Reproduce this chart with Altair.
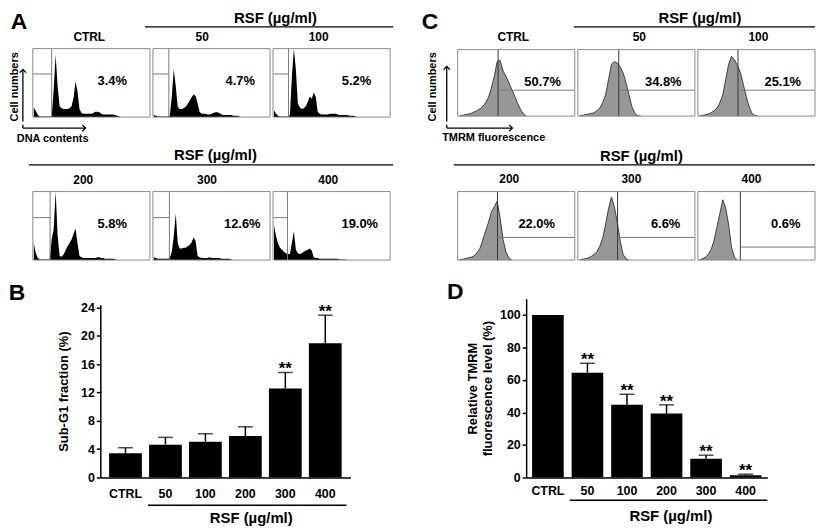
import altair as alt
import pandas as pd

FONT = "Liberation Sans"

# ------------------------------------------------------------------
# Values
# ------------------------------------------------------------------
doses = ["CTRL", "50", "100", "200", "300", "400"]
unit_label = "RSF (µg/ml)"

# Panel B: Sub-G1 fraction (%) mean and upper SD
subg1_mean = [3.42, 4.63, 5.05, 5.85, 12.58, 18.95]
subg1_err = [0.78, 1.03, 1.13, 1.31, 2.25, 3.97]
subg1_sig = ["", "", "", "", "**", "**"]

# Panel D: relative TMRM fluorescence (%) mean and upper SD
tmrm_mean = [100.0, 64.5, 44.7, 39.3, 11.5, 1.4]
tmrm_err = [0.0, 5.8, 6.5, 5.4, 2.2, 0.6]
tmrm_sig = ["", "**", "**", "**", "**", "**"]

# Percentages printed inside the flow-cytometry frames
subg1_pct = ["3.4%", "4.7%", "5.2%", "5.8%", "12.6%", "19.0%"]
tmrm_pct = ["50.7%", "34.8%", "25.1%", "22.0%", "6.6%", "0.6%"]

# Panel A: DNA-content histograms (cell count, % of frame height), 59 channels
dna_ctrl = [14, 9, 3, 1, 1, 1, 1, 1, 1, 1, 40, 91, 45, 16, 13, 12, 12, 12, 13, 16,
            28, 52, 38, 12, 6, 5, 5, 5, 5, 5, 6, 8, 8, 7, 5, 4, 4, 4, 4, 4, 4, 3, 2, 1, 0]
dna_50 = [3, 2, 1, 1, 1, 1, 1, 1, 2, 30, 70, 45, 15, 12, 12, 13, 15, 19, 24, 29,
          33, 31, 20, 8, 5, 5, 5, 4, 4, 5, 6, 7, 7, 6, 4, 3, 3, 3, 3, 3, 2, 2, 2, 1, 0]
dna_100 = [10, 5, 2, 1, 1, 1, 1, 1, 3, 60, 100, 70, 20, 14, 12, 13, 16, 22, 30, 27,
           36, 30, 8, 5, 4, 4, 4, 4, 5, 5, 5, 5, 4, 3, 3, 3, 3, 3, 2, 2, 2, 1, 0]
dna_200 = [24, 10, 3, 1, 1, 1, 1, 1, 1, 30, 45, 100, 35, 6, 5, 8, 14, 20, 25, 30,
           38, 46, 25, 6, 4, 3, 3, 3, 3, 3, 3, 3, 4, 4, 3, 3, 2, 2, 2, 2, 2, 1, 0]
dna_300 = [4, 3, 2, 2, 2, 2, 2, 2, 3, 12, 35, 68, 25, 17, 17, 18, 18, 20, 22, 26,
           33, 28, 6, 4, 3, 3, 3, 3, 4, 3, 3, 3, 3, 3, 2, 2, 2, 2, 2, 1, 0]
dna_400 = [51, 35, 24, 18, 15, 12, 10, 9, 9, 25, 42, 15, 10, 9, 10, 12, 14, 15, 17, 14,
           4, 3, 3, 2, 2, 2, 2, 2, 2, 2, 2, 2, 2, 1, 1, 1, 1, 0]
dna_hists = [dna_ctrl, dna_50, dna_100, dna_200, dna_300, dna_400]
dna_gate = [9.5, 8.0, 7.8, 8.7, 8.3, 7.3]          # sub-G1 gate (channel)
dna_gate_level = [63, 63, 63, 62, 62, 62]          # gate marker height (%)

# Panel C: TMRM fluorescence histograms (% of frame height), 40 channels
tmrm_ctrl = [0, 1, 2, 3, 4, 6, 8, 11, 14, 20, 28, 42, 60, 82, 84, 68, 60, 50, 40, 30, 19, 10, 3, 0]
tmrm_50 = [0, 1, 2, 3, 4, 5, 8, 12, 20, 32, 55, 78, 82, 80, 74, 65, 50, 32, 14, 4, 1, 0]
tmrm_100 = [0, 1, 2, 3, 5, 8, 12, 20, 32, 55, 78, 90, 85, 76, 66, 48, 30, 14, 4, 1, 0]
tmrm_200 = [0, 1, 2, 3, 4, 6, 10, 16, 28, 42, 55, 70, 78, 86, 62, 30, 12, 3, 0]
tmrm_300 = [0, 1, 2, 3, 5, 8, 12, 20, 32, 52, 75, 92, 78, 55, 28, 8, 2, 0]
tmrm_400 = [0, 2, 4, 8, 15, 28, 48, 68, 88, 76, 52, 18, 4, 0]
tmrm_hists = [tmrm_ctrl, tmrm_50, tmrm_100, tmrm_200, tmrm_300, tmrm_400]
tmrm_gate = [13.8, 14.0, 13.7, 13.6, 13.6, 14.5]   # marker channel
tmrm_gate_level = [39, 39, 39, 33, 33, 19]         # marker height (%)

# ------------------------------------------------------------------
# Layout / style settings
# ------------------------------------------------------------------
BOX_W = 118
BOX_STEP = 121
UP = "M-1,1L0,0L1,1"
RIGHT = "M-1,-1L0,0L-1,1"
dna_label_x = [40, 44, 42, 40, 45, 43.7]
tmrm_label_x = [29, 29.2, 29, 27, 30, 30]


def canvas(width, height, xdom, ydom, texts=(), rules=(), heads=()):
    xs = alt.Scale(domain=list(xdom), nice=False, zero=False)
    ys = alt.Scale(domain=list(ydom), nice=False, zero=False, reverse=True)
    layers = []
    if rules:
        df = pd.DataFrame(list(rules), columns=["x0", "x1", "y0", "y1"])
        layers.append(alt.Chart(df).mark_rule(color="black", strokeWidth=1.3).encode(
            x=alt.X("x0:Q", scale=xs, axis=None), x2=alt.X2("x1"),
            y=alt.Y("y0:Q", scale=ys, axis=None), y2=alt.Y2("y1")))
    if heads:
        df = pd.DataFrame(list(heads), columns=["x", "y", "shape"])
        layers.append(alt.Chart(df).mark_point(filled=False, color="black", strokeWidth=1.3,
                                               size=40, opacity=1).encode(
            x=alt.X("x:Q", scale=xs, axis=None), y=alt.Y("y:Q", scale=ys, axis=None),
            shape=alt.Shape("shape:N", scale=None, legend=None)))
    if texts:
        df = pd.DataFrame(list(texts), columns=["x", "y", "label", "fs", "ang"])
        layers.append(alt.Chart(df).mark_text(font=FONT, fontWeight="bold", color="black",
                                              align="center", baseline="middle").encode(
            x=alt.X("x:Q", scale=xs, axis=None), y=alt.Y("y:Q", scale=ys, axis=None),
            text="label:N", size=alt.Size("fs:Q", scale=None, legend=None),
            angle=alt.Angle("ang:Q", scale=None)))
    if not layers:
        df = pd.DataFrame({"x": [sum(xdom) / 2], "y": [sum(ydom) / 2]})
        layers.append(alt.Chart(df).mark_point(opacity=0, size=1).encode(
            x=alt.X("x:Q", scale=xs, axis=None), y=alt.Y("y:Q", scale=ys, axis=None)))
    return alt.layer(*layers).properties(width=width, height=height)


def header(width, offset, height, texts=(), rules=(), heads=()):
    xdom = [-offset / BOX_STEP, (width - offset) / BOX_STEP]
    return canvas(width, height, xdom, [0, height], texts, rules, heads)


def hist_panel(vals, nch, gate, level, left_gate, pct, pct_x, height, fill, outline, vcolor):
    xs = alt.Scale(domain=[0, nch], nice=False, zero=False)
    ys = alt.Scale(domain=[0, 100], nice=False, zero=False)

    def X(f):
        return alt.X(f"{f}:Q", scale=xs, axis=None)

    def Y(f):
        return alt.Y(f"{f}:Q", scale=ys, axis=None)

    df = pd.DataFrame({"ch": [i + 0.5 for i in range(len(vals))], "n": vals})
    kw = dict(color=fill, interpolate="linear", clip=True)
    if outline:
        kw["line"] = alt.OverlayMarkDef(color=outline, strokeWidth=0.8)
    area = alt.Chart(df).mark_area(**kw).encode(x=X("ch"), y=Y("n"))

    h0, h1 = (0, gate) if left_gate else (gate, nch)
    gdf = pd.DataFrame({"x0": [gate, h0], "x1": [gate, h1], "y0": [0, level],
                        "y1": [100, level], "c": [vcolor, "#7a7a7a"]})
    gates = alt.Chart(gdf).mark_rule(strokeWidth=1).encode(
        x=X("x0"), x2=alt.X2("x1"), y=Y("y0"), y2=alt.Y2("y1"),
        color=alt.Color("c:N", scale=None, legend=None))

    fdf = pd.DataFrame({"x0": [0], "x1": [nch], "y0": [0], "y1": [100]})
    frame = alt.Chart(fdf).mark_rect(fillOpacity=0, stroke="#8a8a8a", strokeWidth=1).encode(
        x=X("x0"), x2=alt.X2("x1"), y=Y("y0"), y2=alt.Y2("y1"))

    tdf = pd.DataFrame({"x": [pct_x], "y": [52], "t": [pct]})
    txt = alt.Chart(tdf).mark_text(font=FONT, fontSize=13, fontWeight="bold",
                                   color="black").encode(x=X("x"), y=Y("y"), text="t:N")
    return alt.layer(area, gates, frame, txt).properties(width=BOX_W, height=height)


def dna_panel(i, height):
    return hist_panel(dna_hists[i], 59, dna_gate[i], dna_gate_level[i], True,
                      subg1_pct[i], dna_label_x[i], height, "black", None, "#7a7a7a")


def tmrm_panel(i, height):
    return hist_panel(tmrm_hists[i], 40, tmrm_gate[i], tmrm_gate_level[i], False,
                      tmrm_pct[i], tmrm_label_x[i], height, "#6b6b6b", "#1e1e1e", "#333333")


def bar_panel(means, errs, sigs, ydom, yticks, ytitle, width, height, p_in, p_out,
              lab_pad, title_pad, span, text_x, rule_y, text_y):
    df = pd.DataFrame({"dose": doses, "mean": means, "err": errs,
                       "top": [m + e for m, e in zip(means, errs)], "sig": sigs})
    xs = alt.Scale(domain=doses, paddingInner=p_in, paddingOuter=p_out)
    ys = alt.Scale(domain=list(ydom), nice=False, zero=False)
    xaxis = alt.Axis(title=None, labelAngle=0, ticks=False, labelPadding=lab_pad,
                     domainColor="black", domainWidth=1.5, labelFont=FONT, labelFontSize=12.5,
                     labelFontWeight="bold", labelColor="black")
    yaxis = alt.Axis(values=yticks, format="d", title=ytitle, grid=False,
                     domainColor="black", domainWidth=1.5, tickColor="black", tickWidth=1.5,
                     tickSize=4, labelPadding=2, labelFont=FONT, labelFontSize=12.5,
                     labelFontWeight="bold", labelColor="black", titleFont=FONT,
                     titleFontSize=13, titleFontWeight="bold", titleColor="black",
                     titlePadding=title_pad, titleLineHeight=15.5)

    def X():
        return alt.X("dose:N", scale=xs, sort=doses, axis=xaxis)

    def Y(f):
        return alt.Y(f"{f}:Q", scale=ys, axis=yaxis)

    base = alt.Chart(df)
    bars = base.mark_bar(color="black").encode(x=X(), y=Y("mean"))
    witherr = base.transform_filter("datum.err > 0")
    err = witherr.mark_rule(color="black", strokeWidth=1.5).encode(
        x=X(), y=Y("mean"), y2=alt.Y2("top"))
    cap = witherr.mark_tick(color="black", thickness=1.5, size=15).encode(x=X(), y=Y("top"))
    stars = base.mark_text(font=FONT, fontSize=17, fontWeight="bold", color="black",
                           baseline="alphabetic", dy=2).encode(x=X(), y=Y("top"), text="sig:N")
    core = alt.layer(bars, err, cap, stars)

    ax = alt.Scale(domain=[0, len(doses)], nice=False, zero=False)
    ann_rule = alt.Chart(pd.DataFrame({"x0": [span[0]], "x1": [span[1]], "y": [rule_y]})).mark_rule(
        color="black", strokeWidth=1.5).encode(
        x=alt.X("x0:Q", scale=ax, axis=None), x2=alt.X2("x1"), y=Y("y"))
    ann_text = alt.Chart(pd.DataFrame({"x": [text_x], "y": [text_y], "t": [unit_label]})).mark_text(
        font=FONT, fontSize=15, fontWeight="bold", color="black", baseline="middle").encode(
        x=alt.X("x:Q", scale=ax, axis=None), y=Y("y"), text="t:N")
    return alt.layer(core, ann_rule, ann_text).resolve_scale(x="independent").properties(
        width=width, height=height)


# ------------------------------------------------------------------
# Left column: panels A and B
# ------------------------------------------------------------------
hdrA1 = header(387, 24, 38,
               texts=[(-0.116, 12, "A", 23, 0), (2.02, 8, unit_label, 15, 0),
                      (0.47, 27, "CTRL", 12, 0), (1.41, 27, "50", 12, 0), (2.38, 27, "100", 12, 0)],
               rules=[(0.934, 3.0, 17, 17)])
arrowA = canvas(22, 74, [0, 22], [0, 74],
                texts=[(6, 38.5, "Cell numbers", 11, 270)],
                rules=[(14, 14, 21, 73.3)], heads=[(14, 21, UP)])
rowA1 = alt.hconcat(arrowA, dna_panel(0, 69), dna_panel(1, 69), dna_panel(2, 69), spacing=1)
hdrA2 = header(387, 24, 67,
               texts=[(0.165, 15, "DNA contents", 11, 0), (1.52, 31, unit_label, 15, 0),
                      (0.42, 56, "200", 12, 0), (1.45, 56, "300", 12, 0), (2.46, 56, "400", 12, 0)],
               rules=[(-0.083, -0.083, 0.7, 4), (-0.083, 0.438, 4, 4), (-0.033, 3.0, 41, 41)],
               heads=[(0.438, 4, RIGHT)])
rowA2 = alt.hconcat(canvas(22, 69, [0, 22], [0, 69]),
                    dna_panel(3, 69), dna_panel(4, 69), dna_panel(5, 69), spacing=1)
hdrB = canvas(387, 21, [0, 387], [0, 21])
chartB = bar_panel(subg1_mean, subg1_err, subg1_sig, [0, 24.4], [0, 4, 8, 12, 16, 20, 24],
                   "Sub-G1 fraction (%)", 252, 174, 0.18, 0.22, 10, 10,
                   (1.143, 5.905), 3.62, -3.93, -5.75)
rowB = alt.hconcat(canvas(49, 174, [0, 49], [0, 174], texts=[(8, -11.5, "B", 23, 0)]),
                   chartB, spacing=0)
left = alt.vconcat(hdrA1, rowA1, hdrA2, rowA2, hdrB, rowB, spacing=0)

# ------------------------------------------------------------------
# Right column: panels C and D
# ------------------------------------------------------------------
hdrC1 = header(398, 38, 39,
               texts=[(-0.231, 12, "C", 23, 0), (2.017, 8, unit_label, 15, 0),
                      (0.463, 27, "CTRL", 12, 0), (1.512, 27, "50", 12, 0), (2.504, 27, "100", 12, 0)],
               rules=[(0.967, 2.975, 17, 17)])
arrowC = canvas(36, 73, [0, 36], [0, 73],
                texts=[(13, 37.5, "Cell numbers", 11, 270)],
                rules=[(27, 27, 17, 72.3)], heads=[(27, 17, UP)])
rowC1 = alt.hconcat(arrowC, tmrm_panel(0, 67), tmrm_panel(1, 67), tmrm_panel(2, 67), spacing=1)
hdrC2 = header(398, 38, 67,
               texts=[(0.30, 14, "TMRM fluorescence", 11, 0), (1.53, 32, unit_label, 15, 0),
                      (0.43, 55, "200", 12, 0), (1.446, 55, "300", 12, 0), (2.446, 55, "400", 12, 0)],
               rules=[(-0.091, -0.091, 0.7, 4), (-0.091, 0.455, 4, 4), (-0.033, 2.975, 41, 41)],
               heads=[(0.455, 4, RIGHT)])
rowC2 = alt.hconcat(canvas(36, 69, [0, 36], [0, 69]),
                    tmrm_panel(3, 69), tmrm_panel(4, 69), tmrm_panel(5, 69), spacing=1)
hdrD = canvas(398, 20, [0, 398], [0, 20])
chartD = bar_panel(tmrm_mean, tmrm_err, tmrm_sig, [0, 110], [0, 20, 40, 60, 80, 100],
                   ["Relative TMRM", "fluorescence level (%)"], 243, 180, 0.2, 0.15, 7, 5,
                   (1.086, 6.0), 3.6, -14.06, -23.8)
rowD = alt.hconcat(canvas(46, 180, [0, 46], [0, 180], texts=[(35.5, -6.5, "D", 23, 0)]),
                   chartD, spacing=0)
right = alt.vconcat(hdrC1, rowC1, hdrC2, rowC2, hdrD, rowD, spacing=0)

chart = alt.hconcat(left, right, spacing=26).properties(padding=0).configure_view(stroke=None)

chart.save("out.html", embed_options={"renderer": "svg", "actions": False})
